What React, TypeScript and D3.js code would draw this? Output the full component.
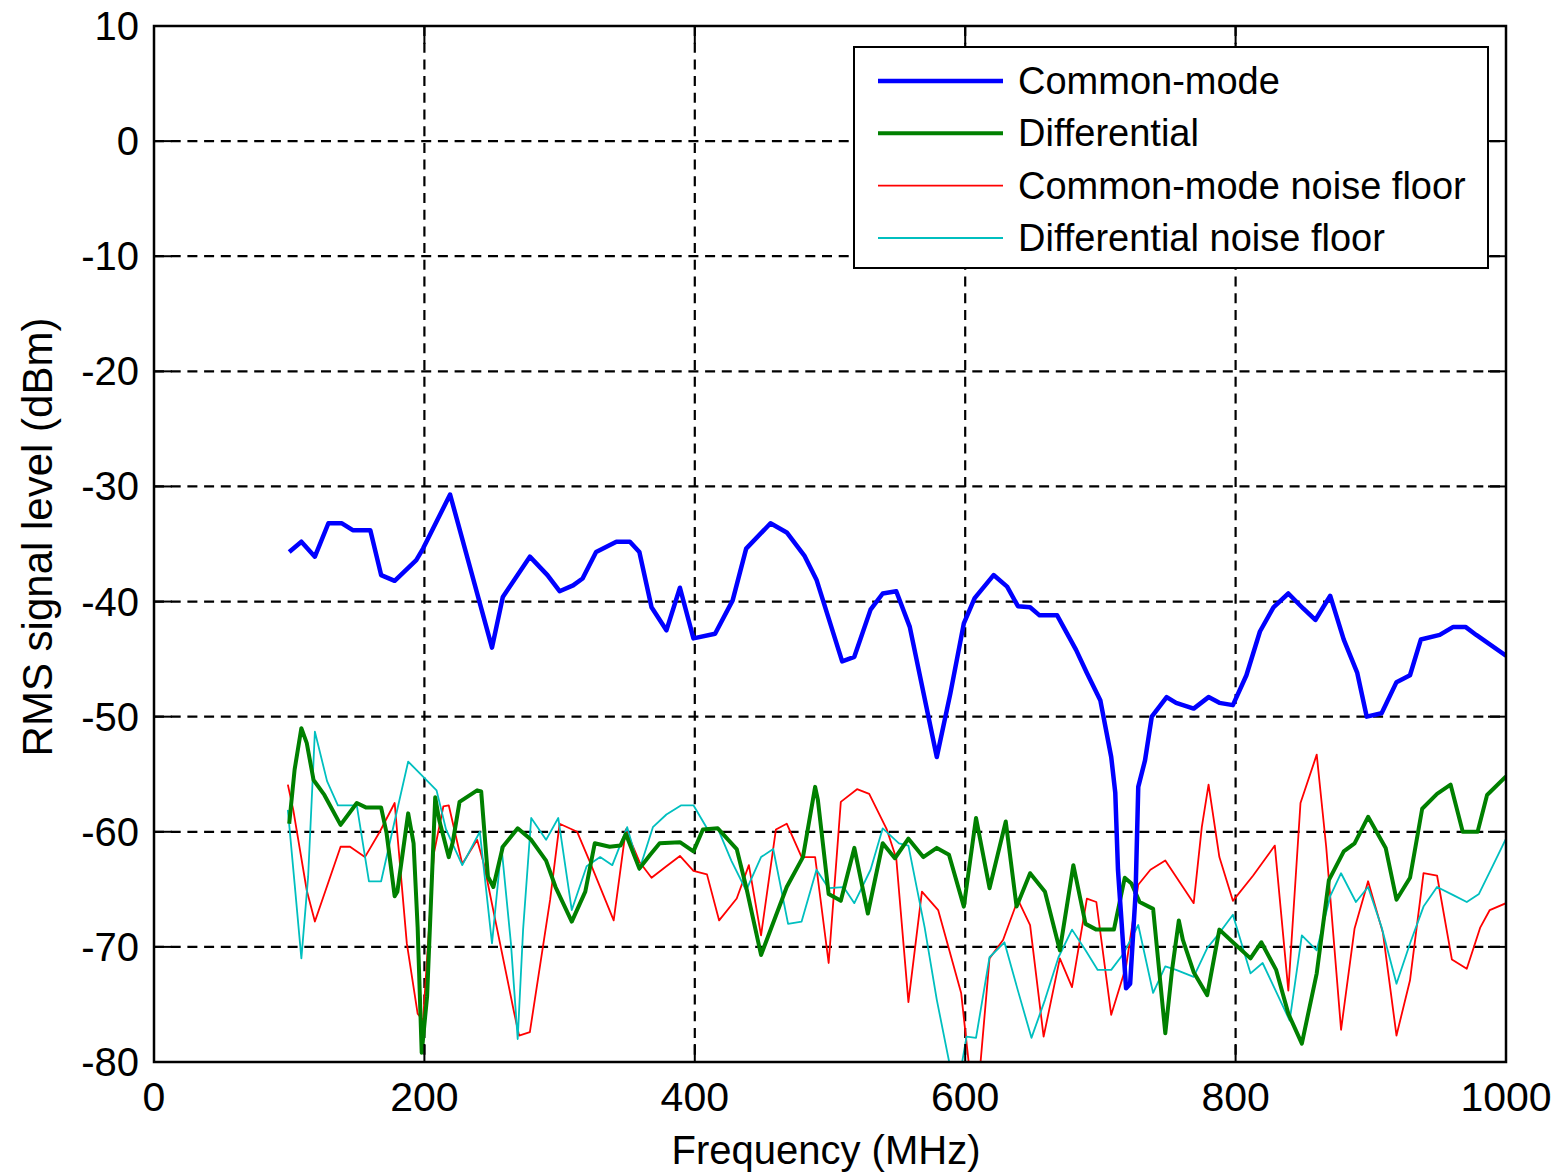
import * as d3 from 'd3';
import React, { useRef, useEffect } from 'react';

// frequency (MHz) / level (dBm), one pair of arrays per trace
const cmFreq = [100, 109, 119, 129, 139, 147, 160, 168, 178, 194, 199, 219, 250, 258, 278, 291, 300, 310, 317, 327, 342, 352, 359, 368, 379, 389, 399, 415, 428, 438, 456, 468, 481, 490, 509, 518, 530, 539, 549, 559, 579, 589, 599, 607, 621, 631, 639, 648, 655, 668, 682, 690, 700, 708, 711, 713, 719, 722, 726, 728, 733, 738, 749, 756, 769, 780, 788, 798, 808, 818, 828, 839, 850, 859, 870, 880, 890, 897, 908, 919, 929, 937, 951, 961, 970, 978, 1000];
const cmLevel = [-35.7, -34.8, -36.1, -33.2, -33.2, -33.8, -33.8, -37.7, -38.2, -36.4, -35.4, -30.7, -44.0, -39.6, -36.1, -37.7, -39.1, -38.6, -38.0, -35.7, -34.8, -34.8, -35.7, -40.5, -42.5, -38.8, -43.2, -42.8, -39.9, -35.4, -33.2, -34.0, -36.0, -38.1, -45.2, -44.8, -40.7, -39.3, -39.1, -42.2, -53.5, -48.0, -41.9, -39.7, -37.7, -38.7, -40.4, -40.5, -41.2, -41.2, -44.2, -46.2, -48.6, -53.5, -56.6, -63.3, -73.6, -73.2, -65.4, -56.1, -53.8, -50.0, -48.3, -48.8, -49.3, -48.3, -48.8, -49.0, -46.4, -42.6, -40.5, -39.3, -40.6, -41.6, -39.5, -43.3, -46.2, -50.0, -49.7, -47.0, -46.4, -43.3, -42.9, -42.2, -42.2, -42.9, -44.7];

const dfFreq = [100, 104, 109, 113, 118, 126, 138, 150, 157, 168, 172, 178, 180, 188, 192, 195, 198, 202, 208, 211, 218, 221, 226, 239, 242, 247, 251, 258, 269, 279, 290, 297, 309, 319, 326, 337, 345, 349, 359, 367, 374, 389, 399, 406, 417, 431, 438, 449, 468, 480, 489, 491, 499, 508, 518, 528, 539, 548, 558, 569, 579, 588, 599, 608, 618, 630, 638, 648, 659, 670, 680, 689, 697, 710, 718, 723, 729, 739, 748, 753, 758, 761, 769, 779, 788, 798, 811, 819, 830, 839, 849, 860, 869, 880, 888, 898, 911, 919, 929, 938, 949, 959, 968, 979, 986, 1000];
const dfLevel = [-59.3, -54.6, -51.0, -52.3, -55.5, -56.8, -59.4, -57.5, -57.9, -57.9, -60.1, -65.6, -65.2, -58.4, -61.0, -68.3, -79.2, -74.3, -57.0, -59.0, -62.2, -60.9, -57.4, -56.4, -56.5, -63.9, -64.8, -61.3, -59.7, -60.7, -62.5, -64.8, -67.8, -65.2, -61.0, -61.3, -61.2, -60.2, -63.2, -62.0, -61.0, -60.9, -61.7, -59.8, -59.7, -61.5, -64.8, -70.7, -64.8, -62.2, -56.1, -57.2, -65.4, -66.0, -61.4, -67.1, -61.0, -62.3, -60.6, -62.2, -61.4, -62.0, -66.5, -58.8, -64.9, -59.1, -66.5, -63.6, -65.2, -70.3, -62.9, -68.0, -68.5, -68.5, -64.0, -64.5, -66.1, -66.7, -77.5, -72.0, -67.7, -69.4, -72.2, -74.2, -68.5, -69.6, -71.0, -69.6, -72.0, -75.8, -78.4, -72.3, -64.2, -61.7, -61.0, -58.7, -61.4, -65.9, -64.0, -58.0, -56.7, -55.9, -60.0, -60.0, -56.8, -55.2];

const cmNoiseFreq = [99, 103, 113, 119, 138, 145, 156, 167, 178, 187, 195, 199, 207, 214, 218, 228, 239, 244, 253, 266, 270, 278, 293, 300, 313, 322, 340, 349, 359, 368, 379, 389, 399, 409, 418, 431, 440, 449, 460, 468, 479, 489, 499, 508, 520, 529, 542, 549, 558, 568, 580, 597, 603, 611, 618, 628, 639, 648, 658, 670, 679, 690, 697, 708, 719, 728, 737, 748, 769, 775, 780, 788, 798, 813, 829, 839, 848, 860, 867, 878, 888, 898, 909, 919, 929, 939, 949, 960, 971, 981, 988, 1000];
const cmNoiseLevel = [-55.9, -58.1, -65.1, -67.8, -61.3, -61.3, -62.2, -60.0, -57.5, -69.7, -75.8, -76.4, -61.9, -57.8, -57.7, -62.8, -60.7, -62.8, -68.0, -75.5, -77.7, -77.4, -65.9, -59.3, -60.0, -62.5, -67.7, -59.8, -62.6, -64.0, -63.0, -62.1, -63.4, -63.7, -67.7, -65.8, -62.9, -69.0, -59.8, -59.3, -62.2, -62.2, -71.4, -57.4, -56.3, -56.7, -59.8, -62.3, -74.8, -65.2, -66.8, -74.0, -80.5, -80.5, -71.0, -69.4, -65.9, -68.1, -77.8, -71.0, -73.5, -65.8, -66.1, -75.9, -71.7, -64.6, -63.3, -62.5, -66.2, -59.6, -55.9, -62.2, -66.0, -63.8, -61.2, -73.8, -57.5, -53.3, -61.3, -77.2, -68.4, -64.3, -68.8, -77.7, -72.9, -63.6, -63.8, -71.1, -71.9, -68.3, -66.8, -66.2];

const dfNoiseFreq = [99, 104, 109, 114, 119, 128, 136, 150, 159, 168, 176, 188, 199, 209, 216, 228, 241, 250, 257, 264, 269, 273, 279, 290, 299, 309, 320, 330, 339, 350, 359, 369, 379, 390, 399, 409, 417, 427, 438, 449, 458, 469, 479, 490, 499, 510, 518, 530, 539, 551, 558, 570, 579, 589, 597, 601, 608, 618, 629, 639, 649, 659, 669, 679, 689, 698, 708, 717, 728, 739, 748, 756, 769, 779, 788, 798, 811, 820, 840, 849, 860, 870, 878, 889, 898, 908, 919, 929, 939, 949, 961, 971, 980, 990, 1000];
const dfNoiseLevel = [-58.1, -64.5, -71.0, -63.9, -51.3, -55.6, -57.7, -57.7, -64.3, -64.3, -60.1, -53.9, -55.2, -56.4, -59.8, -62.9, -60.0, -69.7, -61.3, -69.7, -78.0, -68.5, -58.8, -60.7, -58.8, -66.8, -63.0, -62.2, -62.9, -59.6, -63.3, -59.6, -58.5, -57.7, -57.7, -59.7, -59.7, -62.5, -65.1, -62.2, -61.5, -68.0, -67.8, -63.3, -64.9, -64.8, -66.2, -63.3, -59.7, -61.0, -61.2, -68.3, -74.6, -80.5, -80.5, -77.8, -77.9, -70.9, -69.6, -73.8, -77.9, -74.6, -70.9, -68.5, -70.3, -72.0, -72.0, -70.6, -68.1, -74.0, -71.7, -72.0, -72.6, -70.1, -68.8, -67.2, -72.3, -71.4, -76.4, -69.0, -70.3, -65.6, -63.6, -66.1, -64.8, -68.3, -73.2, -69.7, -66.5, -64.8, -65.5, -66.1, -65.4, -63.0, -60.6];

const xTicks = [0, 200, 400, 600, 800, 1000];
const yTicks = [10, 0, -10, -20, -30, -40, -50, -60, -70, -80];

const seriesNames = ['Common-mode', 'Differential', 'Common-mode noise floor', 'Differential noise floor'];
const seriesColors = ['#0000ff', '#008000', '#ff0000', '#00bfbf'];
const seriesWidths = [4.5, 4, 1.8, 1.8];

const W = 1556, H = 1173;
const left = 154, right = 1506, top = 26, bottom = 1062;
const font = '"Liberation Sans", Arial, sans-serif';

function App() {
  const ref = useRef(null);

  useEffect(() => {
    const svg = d3.select(ref.current);
    svg.selectAll('*').remove();

    const x = d3.scaleLinear().domain([0, 1000]).range([left, right]);
    const y = d3.scaleLinear().domain([-80, 10]).range([bottom, top]);

    svg.append('rect').attr('width', W).attr('height', H).attr('fill', 'white');

    svg.append('clipPath').attr('id', 'plotclip')
      .append('rect')
      .attr('x', left).attr('y', top)
      .attr('width', right - left).attr('height', bottom - top);

    // grid
    const grid = svg.append('g')
      .attr('stroke', '#000').attr('stroke-width', 2.2).attr('stroke-dasharray', '10,6.7');
    xTicks.filter(t => t > 0 && t < 1000).forEach(t => {
      grid.append('line').attr('x1', x(t)).attr('x2', x(t)).attr('y1', top).attr('y2', bottom);
    });
    yTicks.filter(t => t > -80 && t < 10).forEach(t => {
      grid.append('line').attr('x1', left).attr('x2', right).attr('y1', y(t)).attr('y2', y(t));
    });

    // traces
    const traces = [
      [cmFreq, cmLevel],
      [dfFreq, dfLevel],
      [cmNoiseFreq, cmNoiseLevel],
      [dfNoiseFreq, dfNoiseLevel],
    ];
    const line = d3.line().x(d => x(d[0])).y(d => y(d[1]));
    const plot = svg.append('g').attr('clip-path', 'url(#plotclip)');
    // draw noise floors first, then the two signals on top
    [2, 3, 1, 0].forEach(i => {
      const [f, v] = traces[i];
      plot.append('path')
        .datum(f.map((fr, k) => [fr, v[k]]))
        .attr('d', line)
        .attr('fill', 'none')
        .attr('stroke', seriesColors[i])
        .attr('stroke-width', seriesWidths[i])
        .attr('stroke-linejoin', 'round');
    });

    // ticks on all four sides, pointing inward
    const tk = 18;
    const ticks = svg.append('g').attr('stroke', '#000').attr('stroke-width', 2);
    xTicks.forEach(t => {
      ticks.append('line').attr('x1', x(t)).attr('x2', x(t)).attr('y1', bottom).attr('y2', bottom - tk);
      ticks.append('line').attr('x1', x(t)).attr('x2', x(t)).attr('y1', top).attr('y2', top + tk);
    });
    yTicks.forEach(t => {
      ticks.append('line').attr('x1', left).attr('x2', left + tk).attr('y1', y(t)).attr('y2', y(t));
      ticks.append('line').attr('x1', right).attr('x2', right - tk).attr('y1', y(t)).attr('y2', y(t));
    });

    // frame
    svg.append('rect')
      .attr('x', left).attr('y', top)
      .attr('width', right - left).attr('height', bottom - top)
      .attr('fill', 'none').attr('stroke', '#000').attr('stroke-width', 2.5);

    // tick labels
    const labels = svg.append('g').attr('font-family', font).attr('fill', '#000');
    xTicks.forEach(t => {
      labels.append('text').attr('x', x(t)).attr('y', 1111)
        .attr('font-size', 41)
        .attr('text-anchor', 'middle').text(t);
    });
    yTicks.forEach(t => {
      labels.append('text').attr('x', 139).attr('y', y(t) + 14)
        .attr('font-size', 40)
        .attr('text-anchor', 'end').text(t);
    });

    // axis titles
    labels.append('text')
      .attr('x', (left + right) / 2 - 4).attr('y', 1164)
      .attr('font-size', 40)
      .attr('text-anchor', 'middle')
      .text('Frequency (MHz)');
    labels.append('text')
      .attr('transform', `translate(52,${(top + bottom) / 2 - 7}) rotate(-90)`)
      .attr('font-size', 42)
      .attr('text-anchor', 'middle')
      .text('RMS signal level (dBm)');

    // legend
    const lg = svg.append('g');
    lg.append('rect')
      .attr('x', 854).attr('y', 47).attr('width', 634).attr('height', 221)
      .attr('fill', 'white').attr('stroke', '#000').attr('stroke-width', 2);
    const rowY = d3.scalePoint().domain(seriesNames).range([81, 238]);
    seriesNames.forEach((name, i) => {
      lg.append('line')
        .attr('x1', 878).attr('x2', 1003)
        .attr('y1', rowY(name)).attr('y2', rowY(name))
        .attr('stroke', seriesColors[i]).attr('stroke-width', seriesWidths[i]);
      lg.append('text')
        .attr('x', 1018).attr('y', rowY(name) + 13)
        .attr('font-family', font).attr('font-size', 38)
        .text(name);
    });
  });

  return (
    <svg ref={ref} width={W} height={H}
      style={{ position: 'absolute', left: 0, top: 0, display: 'block' }} />
  );
}

export default App;
